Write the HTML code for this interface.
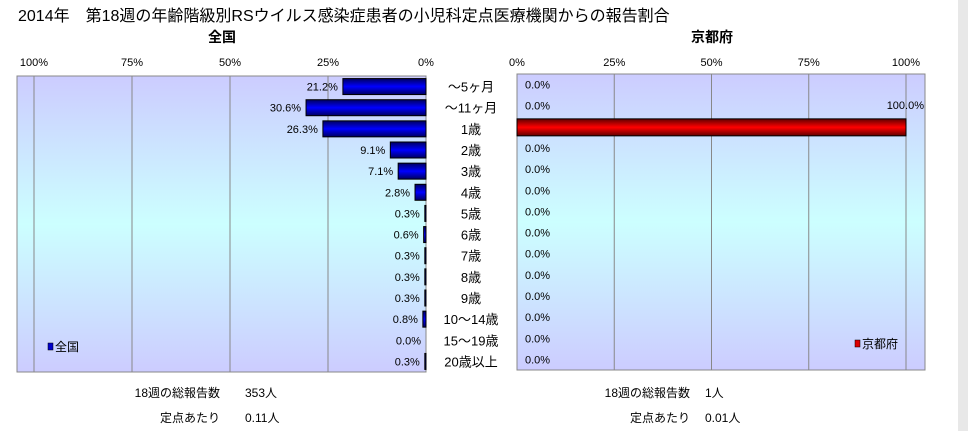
<!DOCTYPE html>
<html><head><meta charset="utf-8"><style>
body{margin:0;width:968px;height:431px;background:#fff;font-family:"Liberation Sans","Noto Sans CJK JP",sans-serif;overflow:hidden}
svg text{font-family:"Liberation Sans","Noto Sans CJK JP",sans-serif}
</style></head><body>
<svg id="c" width="968" height="431">
<defs>
<linearGradient id="bg" x1="0" y1="0" x2="0" y2="1"><stop offset="0" stop-color="#ccccff"/><stop offset="0.5" stop-color="#ccffff"/><stop offset="1" stop-color="#ccccff"/></linearGradient>
<linearGradient id="bl" x1="0" y1="0" x2="0" y2="1"><stop offset="0" stop-color="#000060"/><stop offset="0.5" stop-color="#0000ff"/><stop offset="1" stop-color="#000060"/></linearGradient>
<linearGradient id="rd" x1="0" y1="0" x2="0" y2="1"><stop offset="0" stop-color="#600000"/><stop offset="0.5" stop-color="#ff0000"/><stop offset="1" stop-color="#600000"/></linearGradient>
</defs>
<rect x="958" y="0" width="10" height="431" fill="#e8e8e8"/>
<text x="18" y="21" font-size="16">2014年　第18週の年齢階級別RSウイルス感染症患者の小児科定点医療機関からの報告割合</text>
<text x="222" y="42" font-size="14" font-weight="bold" text-anchor="middle">全国</text>
<text x="712" y="42" font-size="14" font-weight="bold" text-anchor="middle">京都府</text>
<g id="g"></g>
<text x="220" y="397" font-size="12" text-anchor="end">18週の総報告数</text>
<text x="245" y="397" font-size="12">353人</text>
<text x="220" y="422" font-size="12" text-anchor="end">定点あたり</text>
<text x="245" y="422" font-size="12">0.11人</text>
<text x="690" y="397" font-size="12" text-anchor="end">18週の総報告数</text>
<text x="705" y="397" font-size="12">1人</text>
<text x="690" y="422" font-size="12" text-anchor="end">定点あたり</text>
<text x="705" y="422" font-size="12">0.01人</text>
</svg>
<script>
const categories=["〜5ヶ月","〜11ヶ月","1歳","2歳","3歳","4歳","5歳","6歳","7歳","8歳","9歳","10〜14歳","15〜19歳","20歳以上"];
const nationalValues=[21.2,30.6,26.3,9.1,7.1,2.8,0.3,0.6,0.3,0.3,0.3,0.8,0.0,0.3];
const kyotoValues=[0,0,100,0,0,0,0,0,0,0,0,0,0,0];
const tickValues=[0,25,50,75,100];
{
const NS="http://www.w3.org/2000/svg";
const g=document.getElementById('g');
function mk(t,a){const el=document.createElementNS(NS,t);for(const k in a)el.setAttribute(k,a[k]);g.appendChild(el);return el;}
const plotTop=76,plotBot=372,rowH=(plotBot-plotTop)/categories.length;
const yC=i=>plotTop+rowH*(i+0.5);
const xL=v=>426-v*3.92;
const xR=v=>517+v*3.89;
let e=mk('rect',{x:17,y:plotTop,width:409,height:plotBot-plotTop,fill:'url(#bg)',stroke:'#888'});


e=mk('rect',{x:517,y:plotTop-2,width:408,height:plotBot-plotTop,fill:'url(#bg)',stroke:'#888'});


tickValues.forEach(v=>{
 if(v>0){
 e=mk('line',{x1:xL(v),x2:xL(v),y1:plotTop,y2:plotBot,stroke:'#888'});
 
 
 e=mk('line',{x1:xR(v),x2:xR(v),y1:plotTop-2,y2:plotBot-2,stroke:'#888'});
 
 
 }
 e=mk('text',{x:xL(v),y:66,'font-size':11,'text-anchor':'middle'});e.textContent=v+'%';
 
 
 e=mk('text',{x:xR(v),y:66,'font-size':11,'text-anchor':'middle'});e.textContent=v+'%';
 
 
});
categories.forEach((c,i)=>{
 const y=yC(i);
 const v=nationalValues[i];
 if(v>0){
 e=mk('rect',{x:xL(v),y:y-8,width:xL(0)-xL(v),height:16,fill:'url(#bl)',stroke:'#000'});
 
 
 }
 e=mk('text',{x:xL(v)-5,y:y+4,'font-size':11,'text-anchor':'end'});e.textContent=v.toFixed(1)+'%';
 
 
 e=mk('text',{x:471,y:y+5,'font-size':13,'text-anchor':'middle'});e.textContent=c;
 
 
 const k=kyotoValues[i],y2=y-2;
 if(k>0){
 e=mk('rect',{x:xR(0),y:y2-8,width:xR(k)-xR(0),height:17,fill:'url(#rd)',stroke:'#000'});
 
 
 e=mk('text',{x:xR(k)+18,y:y2-18,'font-size':11,'text-anchor':'end'});e.textContent=k.toFixed(1)+'%';
 } else {
 e=mk('text',{x:525,y:y2+4,'font-size':11});e.textContent=k.toFixed(1)+'%';
 }
 
 
});
e=mk('rect',{x:48,y:343,width:5,height:7,fill:'#0000cc',stroke:'#000','stroke-width':0.5});


e=mk('text',{x:55,y:351,'font-size':12});e.textContent='全国';


e=mk('rect',{x:855,y:340,width:5,height:7,fill:'#dd0000',stroke:'#000','stroke-width':0.5});


e=mk('text',{x:862,y:348,'font-size':12});e.textContent='京都府';


}
</script>
</body></html>
